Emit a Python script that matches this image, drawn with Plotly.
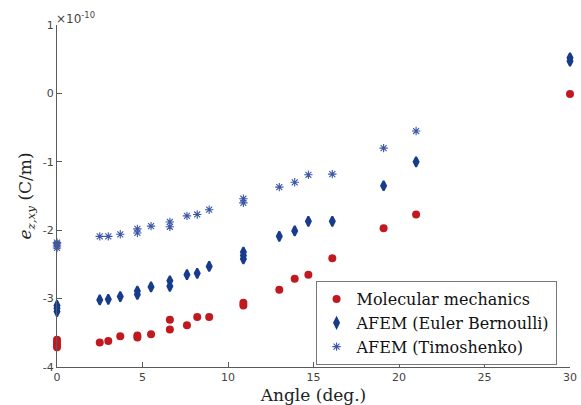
import plotly.graph_objects as go

# Chiral angle (deg.) and piezoelectric coefficient e_{z,xy} (units of 1e-10 C/m)
mm_angle = [0, 0, 0, 0, 2.5, 3.0, 3.7, 4.7, 4.7, 5.5, 6.6, 6.6, 7.6, 8.2, 8.9,
            10.9, 10.9, 13.0, 13.9, 14.7, 16.1, 19.1, 21.0, 30.0]
mm_val = [-3.60, -3.64, -3.68, -3.71, -3.64, -3.62, -3.55, -3.54, -3.57, -3.52,
          -3.45, -3.31, -3.39, -3.27, -3.27, -3.06, -3.10, -2.87, -2.71, -2.65,
          -2.41, -1.97, -1.77, -0.01]

eb_angle = [0, 0, 0, 2.5, 3.0, 3.7, 4.7, 4.7, 5.5, 6.6, 6.6, 7.6, 8.2, 8.9,
            10.9, 10.9, 10.9, 13.0, 13.9, 14.7, 16.1, 19.1, 21.0, 30.0, 30.0]
eb_val = [-3.10, -3.14, -3.19, -3.02, -3.01, -2.97, -2.89, -2.94, -2.83, -2.74,
          -2.82, -2.65, -2.63, -2.53, -2.32, -2.37, -2.42, -2.09, -2.01, -1.87,
          -1.87, -1.35, -1.00, 0.47, 0.52]

ts_angle = [0, 0, 0, 0, 2.5, 3.0, 3.7, 4.7, 4.7, 5.5, 6.6, 6.6, 7.6, 8.2, 8.9,
            10.9, 10.9, 13.0, 13.9, 14.7, 16.1, 19.1, 21.0]
ts_val = [-2.18, -2.20, -2.23, -2.26, -2.09, -2.09, -2.06, -1.98, -2.04, -1.94,
          -1.88, -1.95, -1.79, -1.77, -1.70, -1.54, -1.60, -1.37, -1.30, -1.19,
          -1.18, -0.80, -0.55]

x_ticks = [0, 5, 10, 15, 20, 25, 30]
y_ticks = [-4, -3, -2, -1, 0, 1]

RED = "#c0191f"
DARK_BLUE = "#183c8c"
LIGHT_BLUE = "#3c57a6"
AXIS = "#5a5a5a"

fig = go.Figure()
fig.add_trace(go.Scatter(
    x=mm_angle, y=mm_val, mode="markers", name="Molecular mechanics",
    marker=dict(symbol="circle", size=8, color=RED, line=dict(width=0)),
    cliponaxis=False))
fig.add_trace(go.Scatter(
    x=eb_angle, y=eb_val, mode="markers", name="AFEM (Euler Bernoulli)",
    marker=dict(symbol="diamond-tall", size=7, color=DARK_BLUE,
                line=dict(width=2, color=DARK_BLUE)),
    cliponaxis=False))
fig.add_trace(go.Scatter(
    x=ts_angle, y=ts_val, mode="markers", name="AFEM (Timoshenko)",
    marker=dict(symbol="asterisk-open", size=7, color=LIGHT_BLUE,
                line=dict(width=1.1, color=LIGHT_BLUE)),
    cliponaxis=False))

tick_font = dict(family="DejaVu Sans", size=11, color="#444444")

fig.update_layout(
    width=581, height=405,
    margin=dict(l=57, r=4, t=25, b=37),
    paper_bgcolor="white", plot_bgcolor="white",
    showlegend=True,
    legend=dict(
        x=0.504, y=0.251, xanchor="left", yanchor="top",
        bordercolor="#777777", borderwidth=1, bgcolor="white",
        font=dict(family="DejaVu Serif", size=16, color="#111111"),
        itemsizing="trace", tracegroupgap=0,
    ),
    xaxis=dict(
        range=[0, 30], tickvals=x_ticks, ticktext=[str(v) for v in x_ticks],
        ticks="inside", ticklen=5, tickcolor=AXIS, showline=True, linecolor=AXIS,
        linewidth=1, showgrid=False, zeroline=False, mirror=False,
        tickfont=tick_font, ticklabeloverflow="allow",
        title=dict(text="Angle (deg.)", standoff=5,
                   font=dict(family="DejaVu Serif", size=17, color="#222222")),
    ),
    yaxis=dict(
        range=[-4, 1], tickvals=y_ticks, ticktext=[str(v) for v in y_ticks],
        ticks="inside", ticklen=5, tickcolor=AXIS, showline=True, linecolor=AXIS,
        linewidth=1, showgrid=False, zeroline=False, mirror=False,
        tickfont=tick_font, ticklabeloverflow="allow",
        title=dict(text="<i>e</i><sub><i>z,xy</i></sub> (C/m)", standoff=6,
                   font=dict(family="DejaVu Serif", size=17, color="#222222")),
    ),
)

fig.add_annotation(
    x=0, y=1, xref="paper", yref="paper", xanchor="left", yanchor="bottom",
    text="×10<sup>-10</sup>", showarrow=False, xshift=-3, yshift=-3,
    font=dict(family="DejaVu Sans", size=12, color="#444444"))

fig.write_html("out.html")
